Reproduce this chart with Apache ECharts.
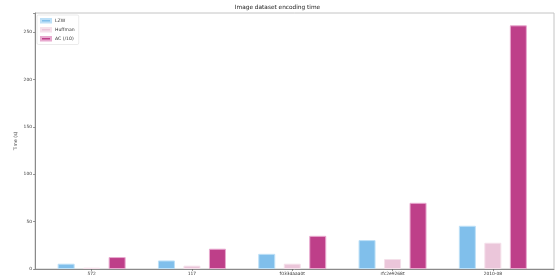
<!DOCTYPE html>
<html>
<head>
<meta charset="utf-8">
<script src="https://cdn.jsdelivr.net/npm/echarts@6/dist/echarts.min.js"></script>
<style>
  html, body { margin: 0; padding: 0; background: #fff; }
  #chart { width: 555px; height: 277px; }
</style>
</head>
<body>
<div id="chart"></div>
<script>
const categories = ['572', '117', 'f033daaa0t', 'rfc2e9268t', '2010-08'];
const lzw = [5.6, 9, 16, 30.5, 45.6];
const huffman = [1.4, 3.5, 5.6, 10.5, 27.7];
const acDiv10 = [12.6, 21.4, 35, 69.8, 257];
const yTicks = [0, 50, 100, 150, 200, 250];

const font = 'DejaVu Sans';
const myChart = echarts.init(document.getElementById('chart'));

const barSeries = function (name, data, color, edge) {
  return {
    name: name,
    type: 'bar',
    xAxisIndex: 1,
    yAxisIndex: 1,
    data: data,
    barWidth: 17,
    barGap: '50%',
    itemStyle: { color: color, borderColor: edge, borderWidth: 1 },
    emphasis: { disabled: true }
  };
};

myChart.setOption({
  animation: false,
  title: {
    text: 'Image dataset encoding time',
    left: 'center',
    top: 0,
    padding: [4, 0, 0, 0],
    textStyle: { fontFamily: font, fontSize: 5.8, fontWeight: 'normal', color: '#222' }
  },
  legend: {
    orient: 'vertical',
    left: 37,
    top: 15,
    icon: 'rect',
    itemWidth: 10,
    itemHeight: 3.5,
    itemGap: 3.5,
    padding: [3, 4, 3, 3],
    backgroundColor: '#fff',
    borderColor: '#ddd',
    borderWidth: 0.6,
    borderRadius: 1.5,
    textStyle: { fontFamily: font, fontSize: 4.6, color: '#333', padding: [0, 0, 0, -1] },
    data: ['LZW', 'Huffman', 'AC (/10)']
  },
  grid: [
    { left: 35, right: 1, top: 13, bottom: 8, show: true, borderColor: '#c4c4c4', borderWidth: 1 },
    { left: 41.5, right: 12, top: 13, bottom: 8 }
  ],
  xAxis: [
    {
      gridIndex: 0,
      type: 'value',
      min: 0,
      max: 1,
      axisLine: { show: true, onZero: false, lineStyle: { color: '#8a8a8a', width: 1 } },
      axisTick: { show: false },
      axisLabel: { show: false },
      splitLine: { show: false }
    },
    {
      gridIndex: 1,
      type: 'category',
      data: categories,
      axisLine: { show: false },
      axisTick: { show: true, alignWithLabel: true, length: 2, lineStyle: { color: '#555', width: 0.6 } },
      axisLabel: { fontFamily: font, fontSize: 4.4, color: '#333', margin: 2.5 }
    }
  ],
  yAxis: [
    {
      gridIndex: 0,
      type: 'value',
      min: 0,
      max: 270,
      interval: 50,
      name: 'Time (s)',
      nameLocation: 'middle',
      nameGap: 17,
      nameMoveOverlap: false,
      nameRotate: 90,
      nameTextStyle: { fontFamily: font, fontSize: 4.6, color: '#333' },
      axisLine: { show: true, lineStyle: { color: '#8a8a8a', width: 1 } },
      axisTick: { show: true, length: 2, lineStyle: { color: '#555', width: 0.6 } },
      axisLabel: {
        fontFamily: font,
        fontSize: 4.4,
        color: '#333',
        margin: 3,
        formatter: function (v) { return yTicks.indexOf(v) >= 0 ? String(v) : ''; }
      },
      splitLine: { show: false }
    },
    {
      gridIndex: 1,
      type: 'value',
      min: 0,
      max: 270,
      show: false,
      splitLine: { show: false }
    }
  ],
  series: [
    barSeries('LZW', lzw, '#80bfeb', '#bde0f7'),
    barSeries('Huffman', huffman, '#ebc6da', '#f5e0ea'),
    barSeries('AC (/10)', acDiv10, '#be3f89', '#e8a9cf')
  ]
});
</script>
</body>
</html>
